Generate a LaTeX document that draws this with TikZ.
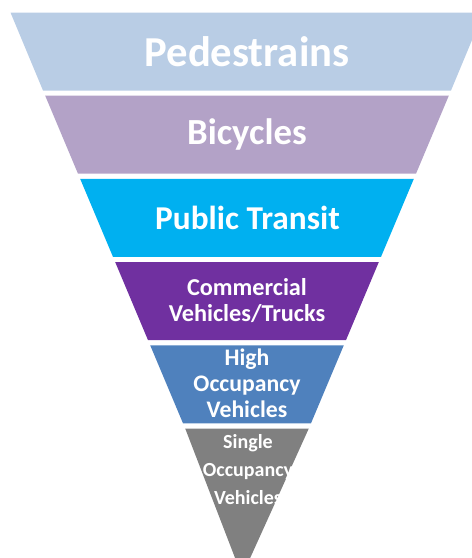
\documentclass[tikz,border=0pt]{standalone}
\usepackage{fontspec}
\setmainfont{Carlito}
\usepackage{tikz}

\begin{document}
\begin{tikzpicture}[x=0.75pt,y=0.75pt,yscale=-1,xscale=1,
  level/.style={white,font=\bfseries,align=center,inner sep=0.75pt}]
\useasboundingbox (0,0) rectangle (472,558);
\clip (0,0) rectangle (472,558);

%Shape: Trapezoid [id:pedestrians]
\fill [color={rgb, 255:red, 185; green, 205; blue, 229 }] (10.5,12.5) -- (483.5,12.5) -- (451,90.5) -- (43,90.5) -- cycle ;
%Shape: Trapezoid [id:bicycles]
\fill [color={rgb, 255:red, 179; green, 162; blue, 199 }] (45.2,95.7) -- (448.8,95.7) -- (416,173.7) -- (78,173.7) -- cycle ;
%Shape: Trapezoid [id:transit]
\fill [color={rgb, 255:red, 0; green, 176; blue, 240 }] (80.2,178.9) -- (413.8,178.9) -- (381,256.9) -- (113,256.9) -- cycle ;
%Shape: Trapezoid [id:trucks]
\fill [color={rgb, 255:red, 112; green, 48; blue, 160 }] (115.2,262.1) -- (378.8,262.1) -- (346,340.1) -- (148,340.1) -- cycle ;
%Shape: Trapezoid [id:hov]
\fill [color={rgb, 255:red, 79; green, 129; blue, 189 }] (150.2,345.3) -- (343.8,345.3) -- (311,423.3) -- (183,423.3) -- cycle ;
%Shape: Triangle [id:sov]
\fill [color={rgb, 255:red, 128; green, 128; blue, 128 }] (185.2,428.5) -- (308.8,428.5) -- (242,576) -- cycle ;

% Text Node
\node (ped) [level,font=\bfseries\fontsize{32}{38}\selectfont] at (247,51.5) {Pedestrains};
% Text Node
\node (bike) [level,font=\bfseries\fontsize{27.6}{33}\selectfont] at (247,134.5) {Bicycles};
% Text Node
\node (pt) [level,font=\bfseries\fontsize{25}{30}\selectfont] at (247.5,217.5) {Public Transit};
% Text Node
\node (cv) [level,font=\bfseries\fontsize{18.2}{19.5}\selectfont] at (247,300.5) {Commercial\\Vehicles/Trucks};
% Text Node
\node (hov) [level,font=\bfseries\fontsize{17.8}{19.5}\selectfont] at (247,383.5) {High\\Occupancy\\Vehicles};
% Text Node
\node (sov) [level,font=\bfseries\fontsize{15}{21}\selectfont] at (248,469.5) {Single\\Occupancy\\Vehicles};

\end{tikzpicture}
\end{document}
